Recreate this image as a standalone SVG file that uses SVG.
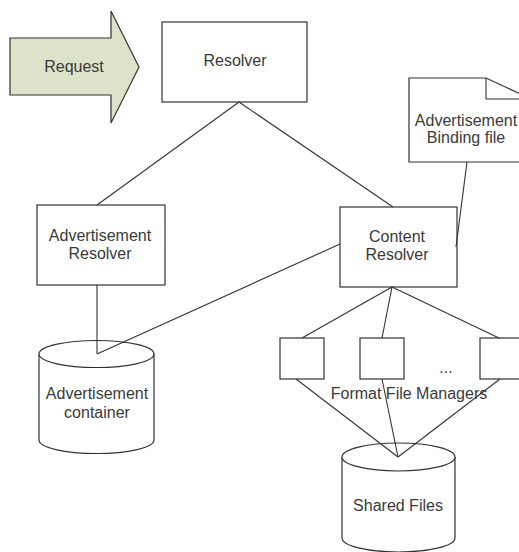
<svg xmlns="http://www.w3.org/2000/svg" width="519" height="552" viewBox="0 0 519 552">
  <style>
    .shape { fill: #ffffff; stroke: #333333; stroke-width: 1.2; }
    .conn { fill: none; stroke: #333333; stroke-width: 1.1; }
    text { font-family: "Liberation Sans", Arial, sans-serif; font-size: 16px; fill: #3a3a3a; text-anchor: middle; }
  </style>
  <rect width="519" height="552" fill="#ffffff"/>

  <g id="request">
    <polygon points="10,38 111,38 111,11 139,67 111,123 111,95 10,95" fill="#dde3c8" stroke="#333333" stroke-width="1.2"/>
    <text x="74" y="72">Request</text>
  </g>

  <g id="resolver">
    <rect class="shape" x="162" y="22" width="145" height="80"/>
    <text x="235" y="66">Resolver</text>
  </g>

  <g id="binding-file">
    <path class="shape" d="M409,78 L486,78 L531,99 L531,162 L409,162 Z"/>
    <path class="conn" d="M486,78 L486,99 L531,99"/>
    <text x="466" y="126">Advertisement</text>
    <text x="466" y="143">Binding file</text>
  </g>

  <g id="ad-resolver">
    <rect class="shape" x="37" y="205" width="128" height="80"/>
    <text x="100" y="241">Advertisement</text>
    <text x="100" y="259">Resolver</text>
  </g>

  <g id="content-resolver">
    <rect class="shape" x="340" y="207" width="117" height="80"/>
    <text x="397" y="242">Content</text>
    <text x="397" y="260">Resolver</text>
  </g>

  <g id="ad-container">
    <path class="shape" d="M39,354 L39,440 A57.5,13.5 0 0 0 154,440 L154,354"/>
    <ellipse class="shape" cx="96.5" cy="354" rx="57.5" ry="13.5"/>
    <text x="97" y="399">Advertisement</text>
    <text x="97" y="418">container</text>
  </g>

  <g id="format-manager-1">
    <rect class="shape" x="280" y="338" width="44" height="41"/>
  </g>
  <g id="format-manager-2">
    <rect class="shape" x="360" y="338" width="44" height="41"/>
  </g>
  <g id="format-manager-n">
    <rect class="shape" x="480" y="338" width="44" height="41"/>
  </g>
  <g id="format-managers-label">
    <text x="446" y="373">...</text>
    <text x="409" y="399">Format File Managers</text>
  </g>

  <g id="shared-files">
    <path class="shape" d="M342,457 L342,538 A56.5,14 0 0 0 455,538 L455,457"/>
    <ellipse class="shape" cx="398.5" cy="457" rx="56.5" ry="14"/>
    <text x="398" y="511">Shared Files</text>
  </g>

  <g id="connectors">
    <line class="conn" x1="239" y1="102" x2="97" y2="205"/>
    <line class="conn" x1="239" y1="102" x2="393" y2="207"/>
    <line class="conn" x1="97" y1="285" x2="97" y2="354"/>
    <line class="conn" x1="340" y1="244" x2="97" y2="354"/>
    <line class="conn" x1="467" y1="162" x2="456" y2="247"/>
    <line class="conn" x1="392" y1="287" x2="302" y2="338"/>
    <line class="conn" x1="392" y1="287" x2="382" y2="338"/>
    <line class="conn" x1="392" y1="287" x2="499" y2="338"/>
    <line class="conn" x1="296" y1="379" x2="398" y2="457"/>
    <line class="conn" x1="382" y1="379" x2="398" y2="457"/>
    <line class="conn" x1="500" y1="379" x2="398" y2="457"/>
  </g>
</svg>
